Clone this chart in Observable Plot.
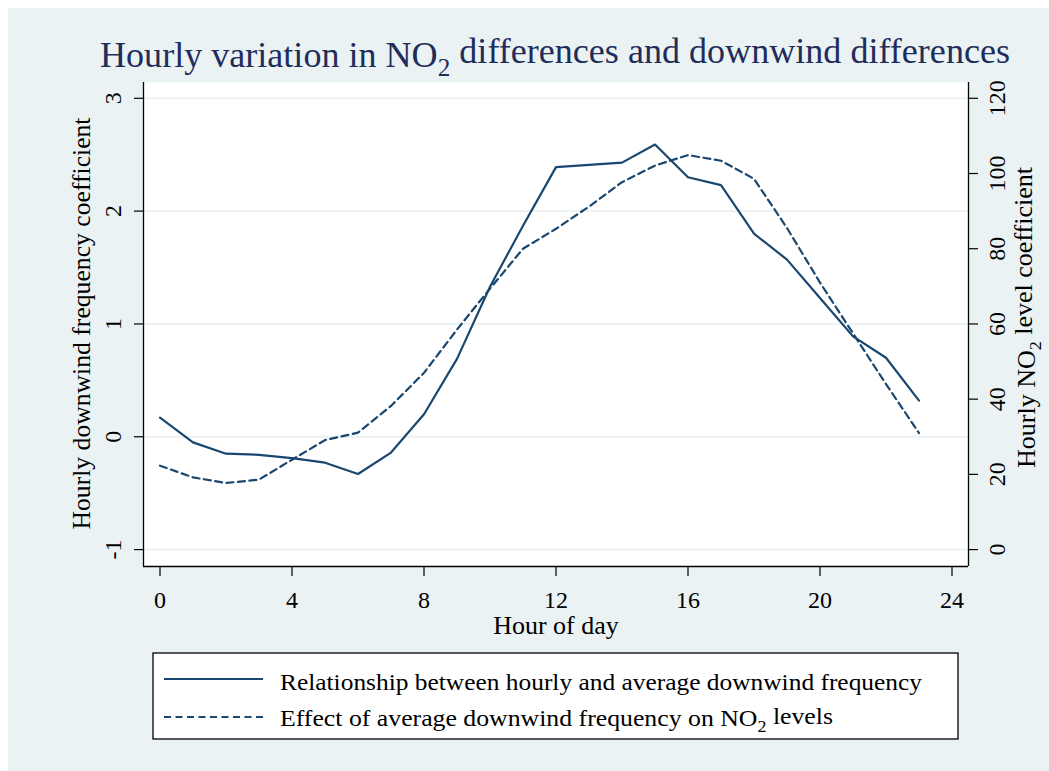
<!DOCTYPE html>
<html>
<head>
<meta charset="utf-8">
<script src="https://cdn.jsdelivr.net/npm/d3@7"></script>
<script src="https://cdn.jsdelivr.net/npm/@observablehq/plot@0.6"></script>
<style>
  body { margin: 0; background: #ffffff; }
  #wrap { position: relative; width: 1049px; height: 771px; overflow: hidden; background: #ffffff; }
  #bg { position: absolute; left: 8px; top: 8px; right: 0; bottom: 0; background: #eaf2f3; }
  #title, #chart, #legend { position: absolute; left: 0; }
  #title { top: 0; z-index: 2; }
  #chart { top: 78px; z-index: 1; }
  #legend { top: 640px; }
  svg text { font-family: "Liberation Serif", "DejaVu Serif", serif; }
</style>
</head>
<body>
<div id="wrap">
  <div id="bg"></div>
  <div id="chart"></div>
  <div id="title"></div>
  <div id="legend"></div>
</div>
<script>
// ---- data ----
const hours = [0,1,2,3,4,5,6,7,8,9,10,11,12,13,14,15,16,17,18,19,20,21,22,23];
const downwindCoef = [0.17,-0.05,-0.15,-0.16,-0.19,-0.23,-0.33,-0.14,0.20,0.69,1.33,1.87,2.39,2.41,2.43,2.59,2.30,2.23,1.80,1.57,1.23,0.89,0.70,0.32];
const no2Coef = [22.3,19.2,17.7,18.6,23.9,29.1,31.1,38.2,47,58.5,69.4,80,85.3,91.2,97.7,102.1,104.9,103.4,98.6,85.5,71,57.5,44,31];
const xTicks = [0,4,8,12,16,20,24];
const leftTicks = [-1,0,1,2,3];
const rightTicks = [0,20,40,60,80,100,120];
const seriesNames = ["Relationship between hourly and average downwind frequency", "Effect of average downwind frequency on NO2 levels"];
const titleText = "Hourly variation in NO2 differences and downwind differences";
const xLabel = "Hour of day";
const leftLabel = "Hourly downwind frequency coefficient";
const rightLabel = "Hourly NO2 level coefficient";

// right axis maps onto left: left = right/30 - 1
const toLeft = r => r / 30 - 1;

const lineColor = "#1a476f";
const solidData = hours.map((h, i) => ({hour: h, v: downwindCoef[i]}));
const dashData = hours.map((h, i) => ({hour: h, v: toLeft(no2Coef[i])}));

const chart = Plot.plot({
  width: 1049,
  height: 562,
  marginTop: 4,
  marginBottom: 74,
  marginLeft: 143,
  marginRight: 81,
  style: {background: "transparent", fontFamily: "Liberation Serif, serif", color: "#000", overflow: "visible"},
  x: {domain: [-0.5, 24.5], axis: null},
  y: {domain: [-1.15, 3.14], axis: null},
  marks: [
    Plot.frame({fill: "#ffffff", stroke: null}),
    Plot.ruleY(leftTicks, {stroke: "#eaf2f3", strokeWidth: 2}),
    Plot.ruleX([-0.5, 24.5], {stroke: "#000", strokeWidth: 1.3}),
    Plot.ruleY([-1.15], {stroke: "#000", strokeWidth: 1.3}),
    Plot.axisX(xTicks, {anchor: "bottom", tickSize: 10, tickPadding: 14, fontSize: 24, label: null, stroke: "#000", strokeWidth: 1.2}),
    Plot.axisY(leftTicks, {anchor: "left", tickSize: 9, tickFormat: () => "", label: null, stroke: "#000", strokeWidth: 1.2}),
    Plot.axisY(rightTicks.map(toLeft), {anchor: "right", tickSize: 9, tickFormat: () => "", label: null, stroke: "#000", strokeWidth: 1.2}),
    Plot.text(leftTicks, {y: d => d, text: d => String(d < 0 ? "-" + Math.abs(d) : d), frameAnchor: "left", dx: -30, rotate: -90, fontSize: 24, textAnchor: "middle", lineAnchor: "middle", fill: "#000"}),
    Plot.text(rightTicks, {y: d => toLeft(d), text: d => String(d), frameAnchor: "right", dx: 29, rotate: -90, fontSize: 24, textAnchor: "middle", lineAnchor: "middle", fill: "#000"}),
    Plot.text([xLabel], {frameAnchor: "bottom", dy: 59, fontSize: 26, textAnchor: "middle", lineAnchor: "middle", fill: "#000"}),
    Plot.text([leftLabel], {frameAnchor: "left", dx: -62, dy: -1, rotate: -90, fontSize: 25, textAnchor: "middle", lineAnchor: "middle", fill: "#000"}),
    Plot.text([rightLabel], {frameAnchor: "right", dx: 58, dy: -7, rotate: -90, fontSize: 25, textAnchor: "middle", lineAnchor: "middle", fill: "#000"}),
    Plot.line(solidData, {x: "hour", y: "v", stroke: lineColor, strokeWidth: 2.2}),
    Plot.line(dashData, {x: "hour", y: "v", stroke: lineColor, strokeWidth: 2.2, strokeDasharray: "7,4.5"})
  ]
});
document.getElementById("chart").appendChild(chart);

// subscript helper for "NO2"
function subscriptNO2(textEl) {
  const s = textEl.textContent;
  const idx = s.indexOf("NO2");
  if (idx < 0) return;
  const before = s.slice(0, idx + 2), after = s.slice(idx + 3);
  const ns = "http://www.w3.org/2000/svg";
  while (textEl.firstChild) textEl.removeChild(textEl.firstChild);
  const t1 = document.createElementNS(ns, "tspan"); t1.textContent = before;
  const t2 = document.createElementNS(ns, "tspan"); t2.textContent = "2";
  t2.setAttribute("dy", "0.35em"); t2.setAttribute("font-size", "70%");
  const t3 = document.createElementNS(ns, "tspan"); t3.textContent = after;
  t3.setAttribute("dy", "-0.35em");
  textEl.appendChild(t1); textEl.appendChild(t2); textEl.appendChild(t3);
}
chart.querySelectorAll("text").forEach(t => {
  if (t.textContent === rightLabel) {
    t.setAttribute("textLength", 301); t.setAttribute("lengthAdjust", "spacingAndGlyphs");
    subscriptNO2(t);
  } else if (t.textContent === leftLabel) {
    t.setAttribute("textLength", 412); t.setAttribute("lengthAdjust", "spacingAndGlyphs");
  }
});

// title
const tsvg = d3.select("#title").append("svg").attr("width", 1049).attr("height", 86).style("overflow", "visible");
const tt = tsvg.append("text").attr("x", 555).attr("y", 67).attr("text-anchor", "middle")
  .attr("font-size", 36).attr("fill", "#1f2d5a").text(titleText)
  .attr("textLength", 910).attr("lengthAdjust", "spacingAndGlyphs");
subscriptNO2(tt.node());

// legend
const lsvg = d3.select("#legend").append("svg").attr("width", 1049).attr("height", 131);
lsvg.append("rect").attr("x", 153).attr("y", 13).attr("width", 805).attr("height", 86)
  .attr("fill", "#fff").attr("stroke", "#000").attr("stroke-width", 1.3);
const rows = [
  {y: 39, dash: null, tx: 50, len: 642},
  {y: 77, dash: "7,4.5", tx: 86, len: 553}
];
rows.forEach((r, i) => {
  lsvg.append("line").attr("x1", 164).attr("x2", 263).attr("y1", r.y).attr("y2", r.y)
    .attr("stroke", lineColor).attr("stroke-width", 2.2).attr("stroke-dasharray", r.dash);
  const t = lsvg.append("text").attr("x", 280).attr("y", r.tx).attr("font-size", 23)
    .attr("fill", "#000").text(seriesNames[i])
    .attr("textLength", r.len).attr("lengthAdjust", "spacingAndGlyphs");
  subscriptNO2(t.node());
});
</script>
</body>
</html>
